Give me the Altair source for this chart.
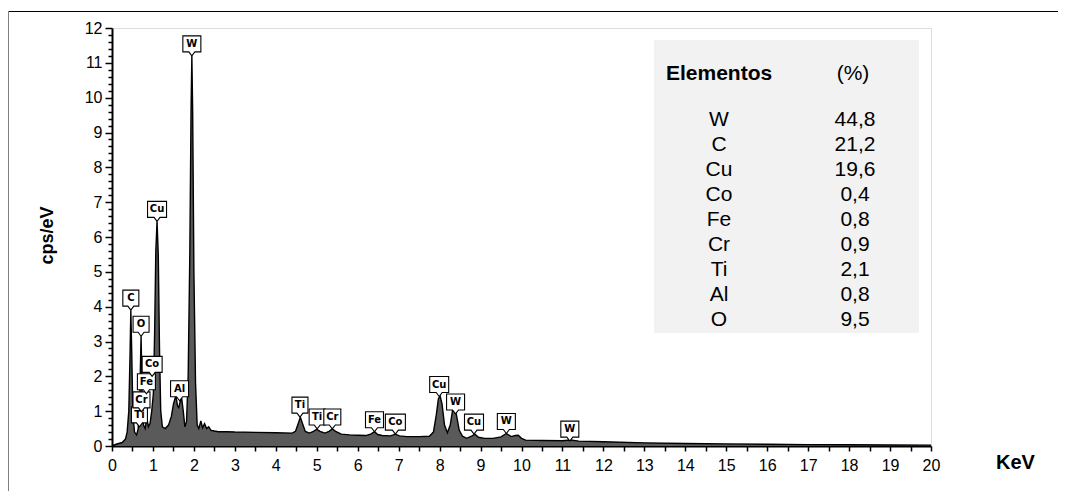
import altair as alt
import pandas as pd

# ---------------- data ----------------
energy_kev = [0.0, 0.1, 0.25, 0.33, 0.37, 0.41, 0.44, 0.46, 0.48, 0.51,
              0.55, 0.6, 0.64, 0.68, 0.71, 0.74, 0.77, 0.81, 0.85, 0.89,
              0.93, 0.97, 1.01, 1.04, 1.07, 1.1, 1.13, 1.16, 1.19, 1.23,
              1.3, 1.38, 1.45, 1.5, 1.56, 1.6, 1.63, 1.66, 1.7, 1.74,
              1.78, 1.82, 1.86, 1.9, 1.93, 1.95, 1.97, 2.0, 2.04, 2.08,
              2.12, 2.17, 2.21, 2.26, 2.31, 2.36, 2.42, 2.5, 2.6, 2.8,
              3.0, 3.5, 4.0, 4.4, 4.48, 4.54, 4.6, 4.66, 4.72, 4.82,
              4.92, 5.0, 5.08, 5.2, 5.3, 5.38, 5.46, 5.6, 5.8, 6.0,
              6.2, 6.33, 6.41, 6.49, 6.6, 6.8, 6.92, 7.02, 7.2, 7.5,
              7.75, 7.85, 7.92, 7.97, 8.01, 8.06, 8.12, 8.19, 8.26, 8.32,
              8.36, 8.41, 8.48, 8.56, 8.66, 8.78, 8.86, 8.95, 9.1, 9.3,
              9.5, 9.63, 9.75, 9.85, 9.92, 10.0, 10.1, 10.5, 11.0, 11.2,
              11.4, 12.0, 13.0, 14.0, 15.0, 16.0, 17.0, 18.0, 19.0, 20.0]
counts_cps = [0.0, 0.05, 0.1, 0.2, 0.4, 1.0, 2.6, 3.9, 2.8, 0.9,
              0.4, 0.32, 0.5, 1.5, 3.15, 1.3, 0.6, 0.5, 0.8, 0.55,
              0.65, 1.0, 1.5, 3.2, 5.6, 6.45, 5.5, 2.8, 1.0, 0.55,
              0.5, 0.6, 0.85, 1.2, 1.45, 1.15, 1.1, 1.25, 1.38, 1.0,
              0.55, 0.7, 2.0, 5.5, 9.6, 11.2, 9.6, 5.0, 1.8, 0.6,
              0.5, 0.72, 0.52, 0.64, 0.5, 0.55, 0.45, 0.43, 0.41, 0.41,
              0.4, 0.39, 0.38, 0.37, 0.42, 0.62, 0.83, 0.62, 0.42, 0.37,
              0.42, 0.48, 0.42, 0.37, 0.42, 0.49, 0.42, 0.34, 0.32, 0.31,
              0.3, 0.35, 0.41, 0.33, 0.3, 0.29, 0.34, 0.29, 0.27, 0.27,
              0.28, 0.4, 0.9, 1.35, 1.45, 1.2, 0.6, 0.38, 0.6, 1.05,
              1.15, 0.9, 0.45, 0.28, 0.22, 0.28, 0.34, 0.25, 0.22, 0.22,
              0.26, 0.36, 0.27, 0.3, 0.31, 0.22, 0.17, 0.16, 0.15, 0.17,
              0.14, 0.12, 0.09, 0.07, 0.06, 0.05, 0.04, 0.035, 0.03, 0.025]

label_names = ["Ti", "Cr", "Fe", "Co", "O", "C", "Cu", "Al", "W",
               "Ti", "Ti", "Cr", "Fe", "Co", "Cu", "W", "Cu", "W", "W"]
label_kev = [0.67, 0.72, 0.84, 0.98, 0.71, 0.46, 1.10, 1.65, 1.95,
             4.59, 5.01, 5.38, 6.41, 6.92, 7.99, 8.39, 8.84, 9.63, 11.18]
label_cps = [0.55, 0.98, 1.5, 2.0, 3.15, 3.9, 6.45, 1.3, 11.2,
             0.83, 0.49, 0.49, 0.41, 0.34, 1.42, 0.92, 0.34, 0.36, 0.14]

elements = ["W", "C", "Cu", "Co", "Fe", "Cr", "Ti", "Al", "O"]
percents = ["44,8", "21,2", "19,6", "0,4", "0,8", "0,9", "2,1", "0,8", "9,5"]

x_tick_values = [i * 0.5 for i in range(41)]
y_tick_values = [round(i * 0.2, 1) for i in range(61)]

# ---------------- helpers ----------------
box_width = {"W": 18, "C": 16, "O": 16, "Cu": 19, "Co": 20, "Ti": 16,
             "Al": 18, "Fe": 18, "Cr": 17}
BOX_H, PTR_H = 16, 4


def callout(w, h=BOX_H, p=PTR_H, n=3):
    u = 10.0  # symbol size 400 -> 1 path unit = 10 px
    hw = w / 2 / u
    a, b, t = n / u, p / u, (p + h) / u
    return (f"M 0,0 L {-a},{-b} L {-hw},{-b} L {-hw},{-t} "
            f"L {hw},{-t} L {hw},{-b} L {a},{-b} Z")


spec = pd.DataFrame({"kev": energy_kev, "cps": counts_cps})
labels = pd.DataFrame({"kev": label_kev, "cps": label_cps, "name": label_names})
labels["path"] = [callout(box_width[n]) for n in label_names]
labels["order"] = list(range(len(labels)))
table = pd.DataFrame({"el": ["\n".join(elements)], "pc": ["\n".join(percents)]})

FONT = "Liberation Sans"
major_test = "abs(datum.value - round(datum.value)) < 0.001"

x_enc = alt.X(
    "kev:Q",
    scale=alt.Scale(domain=[0, 20], nice=False, zero=False),
    axis=alt.Axis(
        values=x_tick_values, tickCount=500,
        labelExpr="datum.value % 1 === 0 ? format(datum.value, 'd') : ''",
        tickSize=5, tickWidth=1.5, tickColor="black",
        domainColor="black", domainWidth=2,
        labelFont=FONT, labelFontSize=16, labelColor="black", labelPadding=6,
        labelFlush=False, labelOverlap=False, grid=False,
        title="KeV", titleFont=FONT, titleFontSize=20, titleFontWeight="bold",
        titleColor="black", titleX=903, titleY=16, titleAlign="center",
        titleBaseline="middle",
    ),
)
y_enc = alt.Y(
    "cps:Q",
    scale=alt.Scale(domain=[0, 12], nice=False, zero=True),
    axis=alt.Axis(
        values=y_tick_values, tickCount=500,
        labelExpr=f"{major_test} ? format(round(datum.value), 'd') : ''",
        tickSize={"condition": {"test": major_test, "value": 7}, "value": 4},
        tickWidth=1.5, tickColor="black",
        domainColor="black", domainWidth=2,
        labelFont=FONT, labelFontSize=16, labelColor="black", labelPadding=3,
        labelOverlap=False, grid=False,
        title="cps/eV", titleFont=FONT, titleFontSize=18, titleFontWeight="bold",
        titleColor="black", titleAngle=270, titleX=-65, titleY=207,
        titleAlign="center", titleBaseline="middle",
    ),
)

area = alt.Chart(spec).mark_area(color="#5a5a5a", opacity=1).encode(x=x_enc, y=y_enc)
line = alt.Chart(spec).mark_line(color="black", strokeWidth=1.4).encode(
    x="kev:Q", y="cps:Q")

boxes = alt.Chart(labels).mark_point(
    filled=True, fill="white", stroke="black", strokeWidth=1.1, size=400, opacity=1
).encode(
    x="kev:Q", y="cps:Q",
    shape=alt.Shape("path:N", scale=None),
    order=alt.Order("order:Q"),
)
box_text = alt.Chart(labels).mark_text(
    dy=-(PTR_H + BOX_H / 2), font="DejaVu Sans", fontWeight="bold", fontSize=10,
    color="black", baseline="middle", align="center"
).encode(x="kev:Q", y="cps:Q", text="name:N")

# element table
table_bg = alt.Chart(table).mark_rect(color="#f2f2f2").encode(
    x=alt.value(542), x2=alt.value(807), y=alt.value(12), y2=alt.value(305))
head1 = alt.Chart(table).mark_text(
    text="Elementos", font=FONT, fontSize=21, fontWeight="bold", color="black",
    align="left", baseline="middle"
).encode(x=alt.value(554), y=alt.value(46))
head2 = alt.Chart(table).mark_text(
    text="(%)", font=FONT, fontSize=21, color="black", align="center", baseline="middle"
).encode(x=alt.value(741), y=alt.value(46))
col1 = alt.Chart(table).mark_text(
    font=FONT, fontSize=21, color="black", align="center", baseline="top",
    lineBreak="\n", lineHeight=25
).encode(x=alt.value(607), y=alt.value(81), text="el:N")
col2 = alt.Chart(table).mark_text(
    font=FONT, fontSize=21, color="black", align="center", baseline="top",
    lineBreak="\n", lineHeight=25
).encode(x=alt.value(743), y=alt.value(81), text="pc:N")

# outer figure border (top and left edges of the surrounding frame)
border_top = alt.Chart(table).mark_rule(color="black", strokeWidth=1).encode(
    x=alt.value(-104), x2=alt.value(1000), y=alt.value(-16.5))
border_left = alt.Chart(table).mark_rule(color="#808080", strokeWidth=1).encode(
    x=alt.value(-103.5), y=alt.value(-17), y2=alt.value(480))

chart = alt.layer(
    table_bg, area, line, boxes, box_text, head1, head2, col1, col2,
    border_top, border_left
).properties(
    width=819, height=418,
    padding={"left": 104, "top": 20, "right": 127, "bottom": 45},
    autosize=alt.AutoSizeParams(type="none"),
).configure_view(stroke="black", strokeWidth=2).configure(background="white")

chart.save("out.html", embed_options={"renderer": "svg", "actions": False})
